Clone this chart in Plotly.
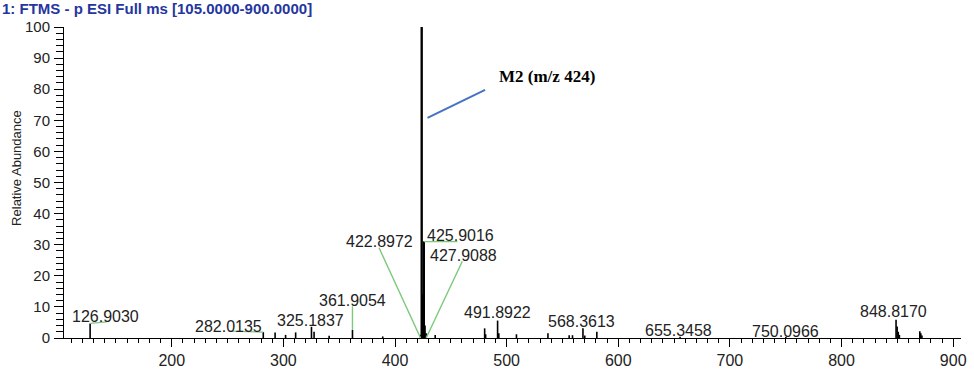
import plotly.graph_objects as go

# ---------------- data ----------------
peak_mz = [126.90, 282.01, 292.6, 302.0, 311.0, 325.18, 327.5, 341.0, 361.91,
           389.0, 422.90, 423.90, 424.90, 425.90, 426.90, 427.91, 436.0,
           480.3, 481.2, 491.89, 493.0, 508.8, 537.0, 556.0, 559.0, 568.36,
           570.0, 580.8, 655.35, 750.10, 848.82, 849.8, 850.8, 851.8,
           870.1, 871.0, 872.0]
peak_int = [4.7, 1.9, 1.8, 1.0, 1.8, 3.6, 2.0, 0.7, 2.6,
            0.5, 1.0, 100.0, 14.0, 31.0, 4.0, 1.5, 1.0,
            3.1, 1.2, 5.6, 1.5, 1.2, 1.5, 0.9, 0.9, 3.1,
            0.8, 2.0, 0.4, 0.3, 5.9, 3.7, 2.0, 1.0,
            2.2, 1.5, 0.8]

label_mz = [126.9030, 282.0135, 325.1837, 361.9054, 423.9049, 422.8972,
            425.9016, 427.9088, 491.8922, 568.3613, 655.3458, 750.0966, 848.8170]
label_int = [4.7, 1.9, 3.6, 2.6, 100.0, 0.0, 31.0, 0.0, 5.6, 3.1, 0.4, 0.3, 5.9]

x_ticks = [200, 300, 400, 500, 600, 700, 800, 900]
y_ticks = [0, 10, 20, 30, 40, 50, 60, 70, 80, 90, 100]

title_text = "1: FTMS - p ESI Full ms [105.0000-900.0000]"
y_title = "Relative Abundance"
note_text = "M2 (m/z 424)"

# ---------------- layout of labels (positions, not data) ----------------
# label text centre (x, y) and leader end point (x, y) or None
label_pos = {
    126.9030: ((141.0, 6.9), (141.8, 5.2)),
    282.0135: ((251.2, 3.8), (253.0, 2.2)),
    325.1837: ((324.2, 5.7), None),
    361.9054: ((361.6, 12.2), (361.9, 10.2)),
    423.9049: ((423.9, 104.2), None),
    422.8972: ((386.5, 31.0), (385.7, 29.0)),
    425.9016: ((458.5, 32.8), (455.9, 31.0)),
    427.9088: ((461.2, 26.6), (460.3, 24.7)),
    491.8922: ((491.4, 8.1), None),
    568.3613: ((567.1, 5.3), None),
    655.3458: ((654.3, 2.5), None),
    750.0966: ((749.5, 2.2), None),
    848.8170: ((846.5, 8.4), None),
}
note_line = ((429.1, 70.8), (480.7, 79.8))
note_pos = (536.0, 84.2)

FONT = "Liberation Sans, Arial, sans-serif"

# ---------------- figure ----------------
xs, ys = [], []
for m, h in zip(peak_mz, peak_int):
    xs += [m, m, None]
    ys += [0, h, None]

fig = go.Figure()
fig.add_trace(go.Scatter(x=xs, y=ys, mode="lines",
                         line=dict(color="black", width=1.6),
                         hoverinfo="skip", showlegend=False))
# base peak drawn slightly heavier
bx, by = [], []
for m, h in zip(peak_mz, peak_int):
    if h >= 10:
        bx += [m, m, None]
        by += [0, h, None]
fig.add_trace(go.Scatter(x=bx, y=by, mode="lines",
                         line=dict(color="black", width=2.2),
                         hoverinfo="skip", showlegend=False))

lx, ly = [], []
for m, h in zip(label_mz, label_int):
    (tx, ty), end = label_pos[m]
    if end is not None:
        lx += [m, end[0], None]
        ly += [h, end[1], None]
fig.add_trace(go.Scatter(x=lx, y=ly, mode="lines",
                         line=dict(color="#7cc97c", width=1.4),
                         hoverinfo="skip", showlegend=False, cliponaxis=False))

annotations = []
for m in label_mz:
    (tx, ty), _ = label_pos[m]
    annotations.append(dict(x=tx, y=ty, xref="x", yref="y", text=f"{m:.4f}",
                            showarrow=False, xanchor="center", yanchor="middle",
                            font=dict(family=FONT, size=16, color="#222222")))

annotations.append(dict(x=0, y=1, xref="paper", yref="paper", xshift=-64, yshift=19,
                        text=f"<b>{title_text}</b>", showarrow=False, xanchor="left",
                        yanchor="middle",
                        font=dict(family=FONT, size=15, color="#25369e")))
annotations.append(dict(x=0, y=54.7, xref="paper", yref="y", xshift=-47,
                        text=y_title, textangle=-90, showarrow=False,
                        xanchor="center", yanchor="middle",
                        font=dict(family=FONT, size=13, color="#222222")))
annotations.append(dict(x=note_pos[0], y=note_pos[1], xref="x", yref="y",
                        text=f"<b>{note_text}</b>", showarrow=False,
                        xanchor="center", yanchor="middle",
                        font=dict(family="Liberation Serif, Times New Roman, serif",
                                  size=17, color="black")))

fig.add_shape(type="line", xref="x", yref="y",
              x0=note_line[0][0], y0=note_line[0][1],
              x1=note_line[1][0], y1=note_line[1][1],
              line=dict(color="#4472c4", width=2))

fig.update_layout(
    width=974, height=376,
    margin=dict(l=64, r=7, t=27, b=26),
    paper_bgcolor="white", plot_bgcolor="white",
    showlegend=False,
    annotations=annotations,
    font=dict(family=FONT, size=16, color="#222222"),
)
fig.update_xaxes(range=[103.5, 907], tickvals=x_ticks, ticktext=[str(v) for v in x_ticks],
                 showgrid=False, zeroline=False, showline=True, linecolor="black",
                 linewidth=1, ticks="outside", ticklen=8, tickcolor="black",
                 tickfont=dict(family=FONT, size=16, color="#222222"),
                 minor=dict(dtick=10, tick0=0, ticks="outside", ticklen=4,
                            tickcolor="black", showgrid=False))
fig.update_yaxes(range=[0, 100], tickvals=y_ticks, ticktext=[str(v) for v in y_ticks],
                 showgrid=False, zeroline=False, showline=True, linecolor="black",
                 linewidth=1, ticks="outside", ticklen=9, tickcolor="black",
                 ticklabelstandoff=1,
                 tickfont=dict(family=FONT, size=15, color="#222222"),
                 minor=dict(dtick=2, tick0=0, ticks="outside", ticklen=7,
                            tickcolor="black", showgrid=False))

fig.write_html("out.html")
